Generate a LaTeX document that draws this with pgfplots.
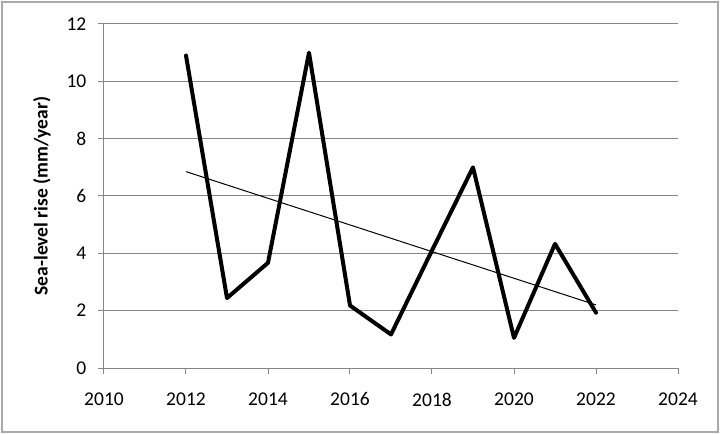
\documentclass[border=0pt]{standalone}
\usepackage{pgfplots}
\pgfplotsset{compat=1.18}
\usepackage{fontspec}
\setmainfont{Carlito}
\definecolor{gridc}{RGB}{134,134,134}
\definecolor{framec}{RGB}{170,170,170}
\begin{document}
\fontsize{19.5bp}{23bp}\selectfont
\begin{tikzpicture}
\useasboundingbox (-104bp,-66bp) rectangle (616bp,368bp);
\draw[framec, line width=1.5bp] (-102bp,-64bp) rectangle (614bp,366bp);
\begin{axis}[
  at={(0,0)}, anchor=south west, scale only axis,
  width=574bp, height=344bp,
  xmin=2010, xmax=2024, ymin=0, ymax=12,
  xtick={2010,2012,...,2024}, ytick={0,2,...,12},
  axis x line*=bottom, axis y line*=left,
  axis line style={gridc, line width=1bp, -},
  ymajorgrids, major grid style={gridc, line width=1bp},
  tick style={gridc, line width=1bp},
  major tick length=6bp,
  xtick align=outside, ytick align=outside,
  /pgf/number format/assume math mode=true,
  /pgf/number format/1000 sep={},
  ticklabel style={font=\fontsize{19.5bp}{23bp}\selectfont, text=black},
  xticklabel style={yshift=-12bp},
  yticklabel style={xshift=-5bp},
  ylabel={\bfseries Sea-level rise (mm/year)},
  every axis y label/.style={at={(axis description cs:-0.108,0.5)}, rotate=90, anchor=center, font=\fontsize{19.5bp}{23bp}\selectfont},
  clip=false,
]
\addplot[black, line width=4bp, line join=round, line cap=round] coordinates {
  (2012,10.9) (2013,2.44) (2014,3.67) (2015,11.0) (2016,2.18) (2017,1.17)
  (2018,4.1) (2019,7.0) (2020,1.05) (2021,4.33) (2022,1.93)
};
\addplot[black, line width=1bp] coordinates {(2012,6.85) (2022,2.2)};
\end{axis}
\end{tikzpicture}
\end{document}
